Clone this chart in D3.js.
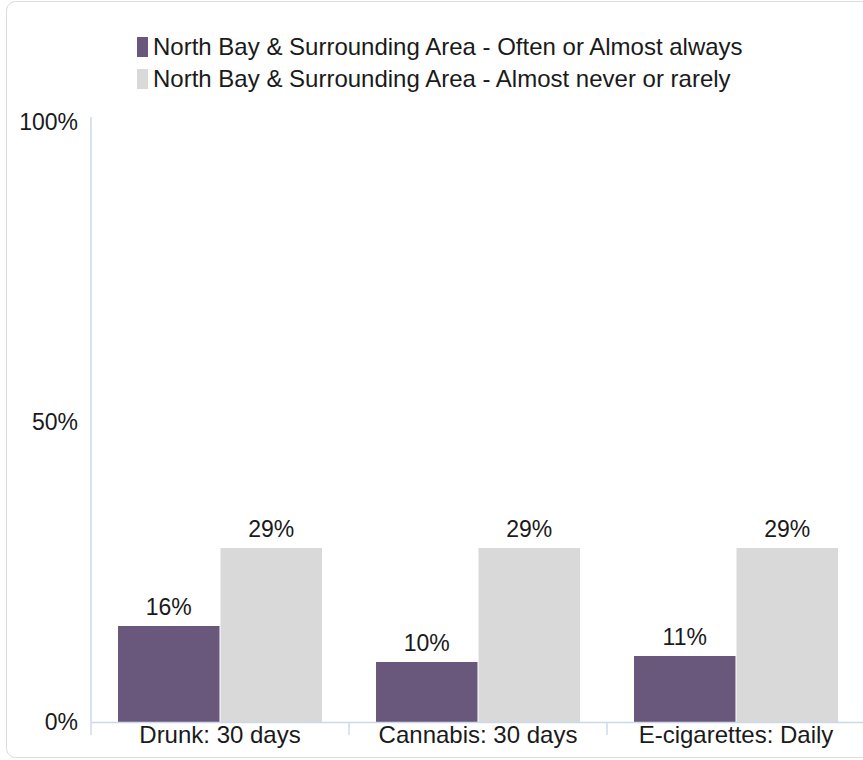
<!DOCTYPE html>
<html>
<head>
<meta charset="utf-8">
<script src="https://cdn.jsdelivr.net/npm/d3@7"></script>
<style>
  body { margin: 0; background: #fff; }
  text { font-family: "Liberation Sans", Arial, sans-serif; fill: #1a1a1a; }
</style>
</head>
<body>
<div id="chart"></div>
<script>
// chart data
const categories = ["Drunk: 30 days", "Cannabis: 30 days", "E-cigarettes: Daily"];
const seriesNames = [
    "North Bay & Surrounding Area - Often or Almost always",
    "North Bay & Surrounding Area - Almost never or rarely"
];
const oftenValues = [16, 10, 11];
const rarelyValues = [29, 29, 29];
const yTicks = [0, 50, 100];
const colors = ["#6a577c", "#d9d9d9"];

const W = 863, H = 760;
const margin = {top: 122, right: -2, bottom: 38, left: 91};
const innerW = W - margin.left - margin.right;
const innerH = H - margin.top - margin.bottom;

const svg = d3.select("#chart").append("svg")
    .attr("width", W)
    .attr("height", H);

// card border
svg.append("rect")
    .attr("x", 6.5).attr("y", 1.5)
    .attr("width", W + 20).attr("height", 756)
    .attr("rx", 9)
    .attr("fill", "#fff")
    .attr("stroke", "#dcdcdc");

const g = svg.append("g")
    .attr("transform", `translate(${margin.left},${margin.top})`);

const x0 = d3.scaleBand().domain(categories).range([0, innerW]).paddingInner(0).paddingOuter(0);
const x1 = d3.scaleBand().domain([0, 1]).range([26, x0.bandwidth() - 26]).padding(0.01);
const y = d3.scaleLinear().domain([0, 100]).range([innerH, 0]);

const rows = categories.map((c, i) => ({cat: c, vals: [oftenValues[i], rarelyValues[i]]}));

// bars
const groups = g.selectAll(".grp").data(rows).join("g")
    .attr("class", "grp")
    .attr("transform", d => `translate(${x0(d.cat)},0)`);

groups.selectAll("rect").data(d => d.vals.map((v, k) => ({v, k}))).join("rect")
    .attr("x", d => x1(d.k))
    .attr("width", x1.bandwidth())
    .attr("y", d => y(d.v))
    .attr("height", d => y(0) - y(d.v))
    .attr("fill", d => colors[d.k]);

groups.selectAll(".lbl").data(d => d.vals.map((v, k) => ({v, k}))).join("text")
    .attr("class", "lbl")
    .attr("x", d => x1(d.k) + x1.bandwidth() / 2)
    .attr("y", d => y(d.v) - 11)
    .attr("text-anchor", "middle")
    .style("font-size", "23px")
    .text(d => d.v + "%");

// y axis
const yAxis = g.append("g").call(d3.axisLeft(y).tickValues(yTicks).tickSize(0).tickPadding(13).tickFormat(d => d + "%"));
yAxis.select(".domain").remove();
yAxis.selectAll("text").style("font-size", "23px").attr("fill", "#1a1a1a");
g.append("line")
    .attr("x1", 0).attr("x2", 0)
    .attr("y1", -5).attr("y2", innerH + 13)
    .attr("stroke", "#cdd9e8").attr("stroke-width", 1.5);

// x axis
const xAxis = g.append("g")
    .attr("transform", `translate(0,${innerH})`)
    .call(d3.axisBottom(x0).tickSize(0).tickPadding(4));
xAxis.select(".domain").attr("stroke", "#cdd9e8").attr("stroke-width", 1.5);
xAxis.selectAll("text").style("font-size", "24px").attr("fill", "#1a1a1a");
g.selectAll(".sep").data(categories.slice(1)).join("line")
    .attr("class", "sep")
    .attr("x1", d => x0(d)).attr("x2", d => x0(d))
    .attr("y1", innerH).attr("y2", innerH + 13)
    .attr("stroke", "#cdd9e8").attr("stroke-width", 1.5);

// legend
const legend = svg.append("g").attr("transform", "translate(137,37)");
const items = legend.selectAll("g").data(seriesNames).join("g")
    .attr("transform", (d, i) => `translate(0,${i * 32})`);
items.append("rect")
    .attr("width", 11).attr("height", 20)
    .attr("fill", (d, i) => colors[i]);
items.append("text")
    .attr("x", 16).attr("y", 10)
    .attr("dy", "0.35em")
    .style("font-size", "24px")
    .text(d => d);
</script>
</body>
</html>
